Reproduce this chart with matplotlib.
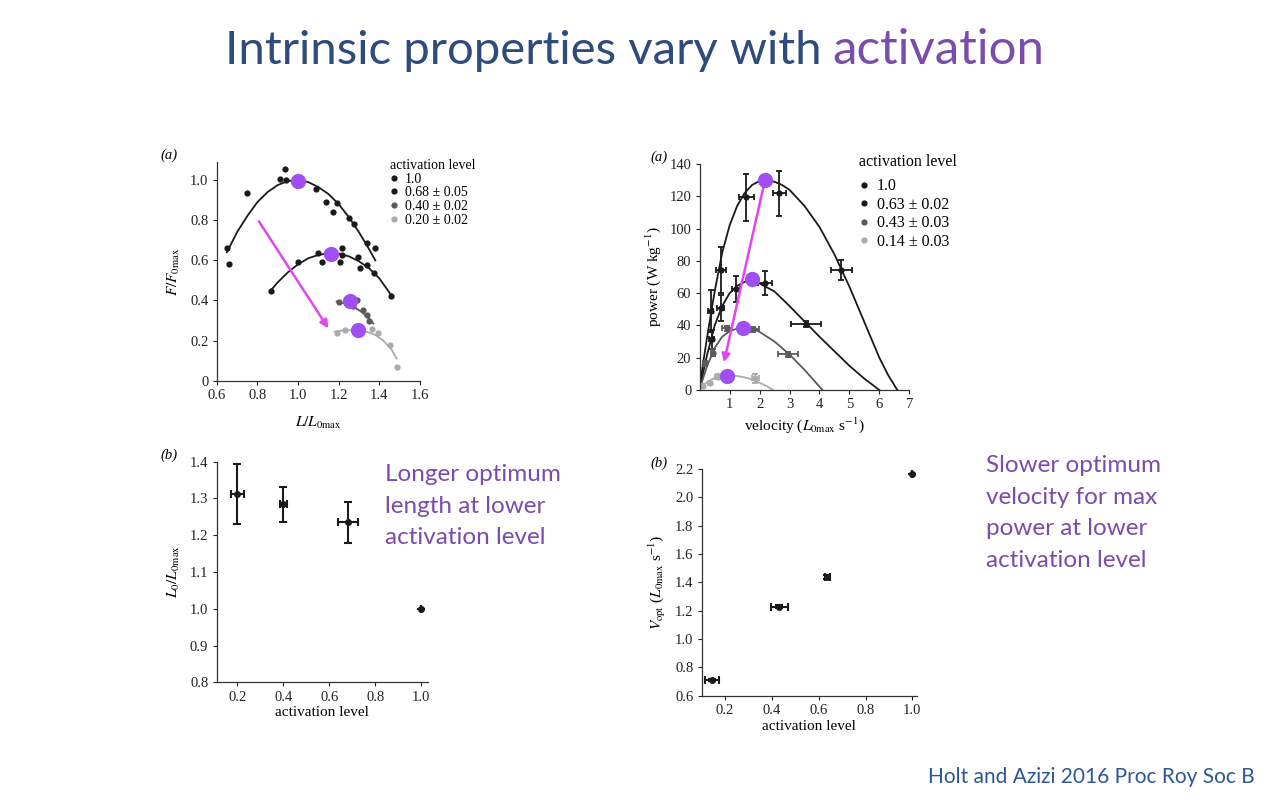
import numpy as np
import matplotlib
matplotlib.use("Agg")
import matplotlib.pyplot as plt
from matplotlib.lines import Line2D

plt.rcParams['font.family'] = ['Liberation Serif', 'DejaVu Serif']
plt.rcParams['mathtext.fontset'] = 'stix'

W, H = 1280, 800
BLACK = '#1a1a1a'
DGREY = '#5a5a5a'
LGREY = '#ababab'
PURPLE_DOT = '#a04ff2'
ARROW = '#e345f0'
TXT_PURPLE = '#7a4cab'
TITLE_BLUE = '#2f4b7e'
CITE_BLUE = '#2f5597'

# ---- panel (a) left: force-length ----
len_10 = [0.652, 0.662, 0.751, 0.911, 0.936, 0.941, 1.0, 1.087, 1.136, 1.172, 1.190, 1.251, 1.275, 1.339, 1.379]
force_10 = [0.659, 0.581, 0.934, 1.005, 1.053, 1.0, 1.0, 0.955, 0.889, 0.842, 0.884, 0.812, 0.779, 0.684, 0.659]
len_068 = [0.866, 1.002, 1.100, 1.120, 1.141, 1.215, 1.207, 1.215, 1.297, 1.305, 1.338, 1.374, 1.456]
force_068 = [0.447, 0.590, 0.635, 0.590, 0.643, 0.659, 0.590, 0.626, 0.615, 0.560, 0.576, 0.535, 0.424]
len_040 = [1.20, 1.24, 1.27, 1.29, 1.32, 1.34, 1.35]
force_040 = [0.39, 0.40, 0.37, 0.40, 0.35, 0.325, 0.30]
len_020 = [1.19, 1.231, 1.362, 1.395, 1.452, 1.485]
force_020 = [0.239, 0.252, 0.256, 0.236, 0.178, 0.07]

fit_x_10 = [0.65, 0.70, 0.75, 0.80, 0.85, 0.90, 0.95, 1.00, 1.05, 1.10, 1.15, 1.20, 1.25, 1.30, 1.35, 1.38]
fit_y_10 = [0.64, 0.74, 0.82, 0.89, 0.94, 0.975, 0.995, 1.0, 0.99, 0.965, 0.93, 0.88, 0.815, 0.74, 0.655, 0.60]
fit_x_068 = [0.866, 0.90, 0.95, 1.00, 1.05, 1.10, 1.15, 1.20, 1.25, 1.30, 1.35, 1.40, 1.456]
fit_y_068 = [0.45, 0.49, 0.54, 0.58, 0.61, 0.627, 0.635, 0.633, 0.62, 0.595, 0.56, 0.51, 0.43]
fit_x_040 = [1.19, 1.23, 1.27, 1.31, 1.35, 1.37]
fit_y_040 = [0.395, 0.385, 0.37, 0.345, 0.31, 0.285]
fit_x_020 = [1.18, 1.22, 1.26, 1.30, 1.34, 1.38, 1.42, 1.46, 1.485]
fit_y_020 = [0.245, 0.25, 0.252, 0.25, 0.243, 0.228, 0.20, 0.155, 0.11]

opt_len = [1.0, 1.161, 1.256, 1.297]
opt_force = [0.997, 0.631, 0.399, 0.252]
labels_fl = ['1.0', '0.68 ± 0.05', '0.40 ± 0.02', '0.20 ± 0.02']

# ---- panel (a) right: power-velocity ----
v_10 = [0.37, 0.70, 1.55, 2.66, 4.73]
p_10 = [48.9, 74.3, 119.4, 121.8, 74.3]
v_10_err = [0.08, 0.17, 0.25, 0.22, 0.36]
p_10_err = [13, 14, 14.5, 14, 6]
v_063 = [0.40, 0.70, 1.21, 2.18, 3.56]
p_063 = [31.4, 51.0, 62.4, 66.1, 40.9]
v_063_err = [0.08, 0.12, 0.12, 0.22, 0.5]
p_063_err = [6, 8, 8, 7.5, 2]
v_043 = [0.18, 0.43, 0.90, 1.79, 2.96]
p_043 = [16.5, 23.1, 38.2, 37.6, 22.1]
v_043_err = [0.03, 0.06, 0.17, 0.2, 0.33]
p_043_err = [1.5, 2, 1.5, 1.5, 1.5]
v_014 = [0.11, 0.34, 0.62, 1.85]
p_014 = [2.5, 4.1, 8.3, 7.2]
v_014_err = [0.02, 0.05, 0.1, 0.12]
p_014_err = [1, 1, 1.5, 3]

pfit_x_10 = [0, 0.1, 0.25, 0.4, 0.5, 0.75, 1.0, 1.25, 1.5, 1.75, 2.0, 2.25, 2.5, 2.75, 3.0, 3.5, 4.0, 4.5,
             5.0, 5.5, 6.0, 6.3, 6.6]
pfit_y_10 = [0, 15, 33, 50, 61, 85, 102, 114, 122, 127, 129.5, 130, 129, 127, 124, 114, 101, 84,
             64, 42, 20, 9, 0]
pfit_x_063 = [0, 0.1, 0.25, 0.5, 0.75, 1.0, 1.25, 1.5, 1.75, 2.0, 2.5, 3.0, 3.5, 4.0, 4.5, 5.0, 5.5, 6.0]
pfit_y_063 = [0, 9.5, 22, 40, 52, 60, 64.5, 67, 67.5, 66, 61, 52, 42.5, 33, 24, 15, 7, 0]
pfit_x_043 = [0, 0.1, 0.25, 0.5, 0.75, 1.0, 1.25, 1.5, 1.75, 2.0, 2.5, 3.0, 3.5, 4.1]
pfit_y_043 = [0, 6.5, 15, 26, 33, 36.5, 38, 38.5, 38, 36, 30, 22, 12.5, 0]
pfit_x_014 = [0, 0.1, 0.25, 0.5, 0.75, 1.0, 1.25, 1.5, 1.75, 2.0, 2.25, 2.45]
pfit_y_014 = [0, 2.2, 5, 7.5, 8.8, 9, 8.7, 7.8, 6.5, 4.5, 2.3, 0]

opt_v = [2.18, 1.736, 1.435, 0.92]
opt_p = [130, 68.6, 38.2, 8.7]
labels_pv = ['1.0', '0.63 ± 0.02', '0.43 ± 0.03', '0.14 ± 0.03']

# ---- panel (b) left / right ----
act_l = [0.2, 0.4, 0.68, 1.0]
act_l_err = [0.027, 0.015, 0.044, 0]
lopt = [1.312, 1.284, 1.235, 1.0]
lopt_err = [0.081, 0.047, 0.055, 0]
act_v = [0.143, 0.432, 0.637, 1.0]
act_v_err = [0.03, 0.036, 0.012, 0]
vopt = [0.711, 1.228, 1.438, 2.167]
vopt_err = [0.01, 0.01, 0.012, 0]


def rect(l, t, r, b):
    return [l / W, 1 - b / H, (r - l) / W, (b - t) / H]


def style(ax, fs=10.5):
    for s in ['top', 'right']:
        ax.spines[s].set_visible(False)
    for s in ['left', 'bottom']:
        ax.spines[s].set_linewidth(0.9)
        ax.spines[s].set_color('#333333')
    ax.tick_params(direction='out', length=3, width=0.8, labelsize=fs, colors='#222222', pad=3)


fig = plt.figure(figsize=(12.8, 8), dpi=100)

# title
fig.text(822 / W, 1 - 64 / H, 'Intrinsic properties vary with', ha='right', va='baseline',
         color=TITLE_BLUE, fontsize=34, family='Lato')
fig.text(832 / W, 1 - 64 / H, 'activation', ha='left', va='baseline',
         color=TXT_PURPLE, fontsize=35.5, family='Lato')

# ---------- force-length ----------
ax1 = fig.add_axes(rect(216.7, 162, 420, 380.7))
style(ax1)
ax1.plot(fit_x_10, fit_y_10, color=BLACK, lw=1.3)
ax1.plot(fit_x_068, fit_y_068, color=BLACK, lw=1.3)
ax1.plot(fit_x_040, fit_y_040, color=DGREY, lw=1.3)
ax1.plot(fit_x_020, fit_y_020, color=LGREY, lw=1.3)
for xs, ys, c, lab in [(len_10, force_10, BLACK, labels_fl[0]), (len_068, force_068, BLACK, labels_fl[1]),
                       (len_040, force_040, DGREY, labels_fl[2]), (len_020, force_020, LGREY, labels_fl[3])]:
    ax1.plot(xs, ys, 'o', color=c, ms=4.5, mec='none', label=lab)
ax1.annotate('', xy=(1.157, 0.249), xytext=(0.8, 0.806),
             arrowprops=dict(arrowstyle='-|>', color=ARROW, lw=1.8, mutation_scale=12))
ax1.plot(opt_len, opt_force, 'o', color=PURPLE_DOT, ms=11, mec='none', zorder=5)
ax1.set_xlim(0.6, 1.6)
ax1.set_ylim(0, 1.09)
ax1.set_xticks([0.6, 0.8, 1.0, 1.2, 1.4, 1.6])
ax1.set_yticks([0, 0.2, 0.4, 0.6, 0.8, 1.0])
ax1.set_yticklabels(['0', '0.2', '0.4', '0.6', '0.8', '1.0'])
ax1.set_xlabel(r'$L/L_{0\mathrm{max}}$', fontsize=11, labelpad=9)
ax1.set_ylabel(r'$F/F_{0\mathrm{max}}$', fontsize=11, labelpad=6)
ax1.legend(title='activation level', loc='upper left', bbox_to_anchor=(383 / W, 1 - 152 / H),
           bbox_transform=fig.transFigure, frameon=False, fontsize=10, title_fontsize=10,
           handlelength=0.6, handletextpad=0.5, labelspacing=0.05, borderpad=0, alignment='left')
fig.text(160 / W, 1 - 155 / H, '(a)', fontsize=10.5, style='italic', va='center')

# ---------- power-velocity ----------
ax2 = fig.add_axes(rect(699.7, 164, 909.3, 390))
style(ax2)
for xs, ys, c in [(pfit_x_10, pfit_y_10, BLACK), (pfit_x_063, pfit_y_063, BLACK),
                  (pfit_x_043, pfit_y_043, DGREY), (pfit_x_014, pfit_y_014, LGREY)]:
    ax2.plot(xs, ys, color=c, lw=1.3)
series = [(v_10, p_10, v_10_err, p_10_err, BLACK, labels_pv[0]),
          (v_063, p_063, v_063_err, p_063_err, BLACK, labels_pv[1]),
          (v_043, p_043, v_043_err, p_043_err, DGREY, labels_pv[2]),
          (v_014, p_014, v_014_err, p_014_err, LGREY, labels_pv[3])]
for xs, ys, xe, ye, c, lab in series:
    ax2.errorbar(xs, ys, xerr=xe, yerr=ye, fmt='o', color=c, ms=4.5, mec='none',
                 elinewidth=1.3, capsize=2.5, capthick=1.3)
ax2.annotate('', xy=(0.79, 15.5), xytext=(2.18, 130),
             arrowprops=dict(arrowstyle='-|>', color=ARROW, lw=1.8, mutation_scale=12))
ax2.plot(opt_v, opt_p, 'o', color=PURPLE_DOT, ms=11, mec='none', zorder=5)
ax2.set_xlim(0, 7)
ax2.set_ylim(0, 140)
ax2.set_xticks([1, 2, 3, 4, 5, 6, 7])
ax2.set_yticks(np.arange(0, 141, 20))
ax2.set_xlabel(r'velocity ($L_{0\mathrm{max}}$ s$^{-1}$)', fontsize=11, labelpad=3)
ax2.set_ylabel(r'power (W kg$^{-1}$)', fontsize=11, labelpad=5)
handles = [Line2D([], [], ls='none', marker='o', color=c, ms=4.5, mec='none') for c in [BLACK, BLACK, DGREY, LGREY]]
leg2 = ax2.legend(handles, labels_pv, title='activation level', loc='upper left',
                  bbox_to_anchor=(851 / W, 1 - 146 / H), bbox_transform=fig.transFigure, frameon=False,
                  fontsize=11.5, title_fontsize=11.5, handlelength=0.6, handletextpad=0.5, labelspacing=0.15,
                  borderpad=0, alignment='left')
leg2._legend_box.sep = 6
fig.text(650 / W, 1 - 157 / H, '(a)', fontsize=10.5, style='italic', va='center')

# ---------- optimum length ----------
ax3 = fig.add_axes(rect(216.7, 461.7, 428, 682.3))
style(ax3)
ax3.errorbar(act_l, lopt, xerr=act_l_err, yerr=lopt_err, fmt='o', color=BLACK, ms=5, mec='none',
             elinewidth=1.5, capsize=3, capthick=1.5)
ax3.set_xlim(0.11, 1.03)
ax3.set_ylim(0.8, 1.4)
ax3.set_xticks([0.2, 0.4, 0.6, 0.8, 1.0])
ax3.set_yticks(np.arange(0.8, 1.41, 0.1))
ax3.yaxis.set_major_formatter(matplotlib.ticker.FormatStrFormatter('%.1f'))
ax3.set_xlabel('activation level', fontsize=11, labelpad=2)
ax3.set_ylabel(r'$L_0/L_{0\mathrm{max}}$', fontsize=11, labelpad=6)
fig.text(160 / W, 1 - 455 / H, '(b)', fontsize=10.5, style='italic', va='center')

# ---------- optimum velocity ----------
ax4 = fig.add_axes(rect(701.7, 469, 917, 695.7))
style(ax4)
ax4.errorbar(act_v, vopt, xerr=act_v_err, yerr=vopt_err, fmt='o', color=BLACK, ms=5, mec='none',
             elinewidth=1.5, capsize=3, capthick=1.5)
ax4.set_xlim(0.1, 1.02)
ax4.set_ylim(0.6, 2.2)
ax4.set_xticks([0.2, 0.4, 0.6, 0.8, 1.0])
ax4.set_yticks(np.arange(0.6, 2.21, 0.2))
ax4.yaxis.set_major_formatter(matplotlib.ticker.FormatStrFormatter('%.1f'))
ax4.set_xlabel('activation level', fontsize=11, labelpad=2)
ax4.set_ylabel(r'$V_{\mathrm{opt}}$ ($L_{0\mathrm{max}}$ s$^{-1}$)', fontsize=11, labelpad=5)
fig.text(650 / W, 1 - 463 / H, '(b)', fontsize=10.5, style='italic', va='center')

# annotations
fig.text(385 / W, 1 - 464 / H, 'Longer optimum\nlength at lower\nactivation level', ha='left', va='top',
         color=TXT_PURPLE, fontsize=17.5, family='Lato', linespacing=1.63)
fig.text(986 / W, 1 - 455 / H, 'Slower optimum\nvelocity for max\npower at lower\nactivation level', ha='left',
         va='top', color=TXT_PURPLE, fontsize=17.5, family='Lato', linespacing=1.63)
fig.text(1255 / W, 1 - 783 / H, 'Holt and Azizi 2016 Proc Roy Soc B', ha='right', va='baseline',
         color=CITE_BLUE, fontsize=15, family='Lato')

fig.savefig('out.png', dpi=100)
